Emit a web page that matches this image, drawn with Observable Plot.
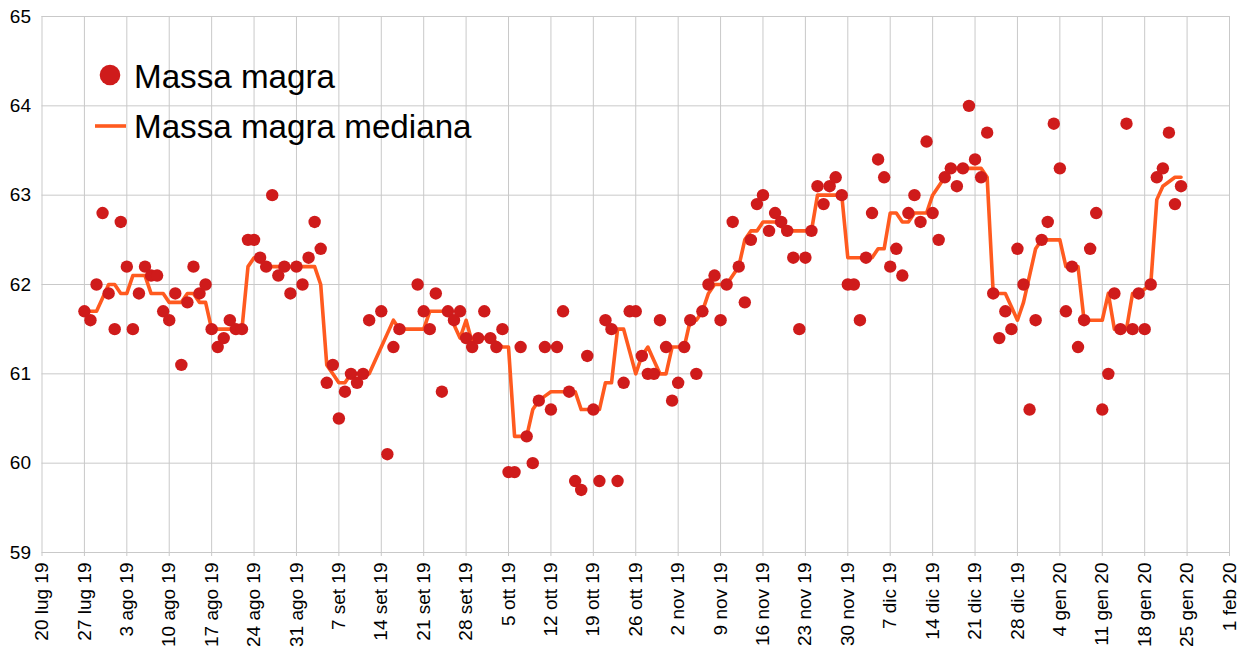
<!DOCTYPE html>
<html>
<head>
<meta charset="utf-8">
<script src="https://cdn.jsdelivr.net/npm/d3@7"></script>
<script src="https://cdn.jsdelivr.net/npm/@observablehq/plot@0.6"></script>
<style>
  html, body { margin: 0; padding: 0; background: #fff; }
  #wrap { position: relative; width: 1246px; height: 663px; font-family: "Liberation Sans", Arial, sans-serif; }
  #legend { position: absolute; left: 0; top: 0; pointer-events: none; }
</style>
</head>
<body>
<div id="wrap"></div>
<script>
// ---- Data ----
const dates = [
  "2019-07-27","2019-07-28","2019-07-29","2019-07-30","2019-07-31",
  "2019-08-01","2019-08-02","2019-08-03","2019-08-04","2019-08-05","2019-08-06","2019-08-07","2019-08-08","2019-08-09","2019-08-10",
  "2019-08-11","2019-08-12","2019-08-13","2019-08-14","2019-08-15","2019-08-16","2019-08-17","2019-08-18","2019-08-19","2019-08-20",
  "2019-08-21","2019-08-22","2019-08-23","2019-08-24","2019-08-25","2019-08-26","2019-08-27","2019-08-28","2019-08-29","2019-08-30","2019-08-31",
  "2019-09-01","2019-09-02","2019-09-03","2019-09-04","2019-09-05","2019-09-06","2019-09-07","2019-09-08","2019-09-09","2019-09-10",
  "2019-09-11","2019-09-12","2019-09-14","2019-09-15","2019-09-16","2019-09-17","2019-09-20",
  "2019-09-21","2019-09-22","2019-09-23","2019-09-24","2019-09-25","2019-09-26","2019-09-27","2019-09-28","2019-09-29","2019-09-30",
  "2019-10-01","2019-10-02","2019-10-03","2019-10-04","2019-10-05","2019-10-06","2019-10-07","2019-10-08","2019-10-09","2019-10-10",
  "2019-10-11","2019-10-12","2019-10-13","2019-10-14","2019-10-15","2019-10-16","2019-10-17","2019-10-18","2019-10-19","2019-10-20",
  "2019-10-21","2019-10-22","2019-10-23","2019-10-24","2019-10-25","2019-10-26","2019-10-27","2019-10-28","2019-10-29","2019-10-30","2019-10-31",
  "2019-11-01","2019-11-02","2019-11-03","2019-11-04","2019-11-05","2019-11-06","2019-11-07","2019-11-08","2019-11-09","2019-11-10",
  "2019-11-11","2019-11-12","2019-11-13","2019-11-14","2019-11-15","2019-11-16","2019-11-17","2019-11-18","2019-11-19","2019-11-20",
  "2019-11-21","2019-11-22","2019-11-23","2019-11-24","2019-11-25","2019-11-26","2019-11-27","2019-11-28","2019-11-29","2019-11-30",
  "2019-12-01","2019-12-02","2019-12-03","2019-12-04","2019-12-05","2019-12-06","2019-12-07","2019-12-08","2019-12-09","2019-12-10",
  "2019-12-11","2019-12-12","2019-12-13","2019-12-14","2019-12-15","2019-12-16","2019-12-17","2019-12-18","2019-12-19","2019-12-20",
  "2019-12-21","2019-12-22","2019-12-23","2019-12-24","2019-12-25","2019-12-26","2019-12-27","2019-12-28","2019-12-29","2019-12-30","2019-12-31",
  "2020-01-01","2020-01-02","2020-01-03","2020-01-04","2020-01-05","2020-01-06","2020-01-07","2020-01-08","2020-01-09","2020-01-10",
  "2020-01-11","2020-01-12","2020-01-13","2020-01-14","2020-01-15","2020-01-16","2020-01-17","2020-01-18","2020-01-19","2020-01-20",
  "2020-01-21","2020-01-22","2020-01-23","2020-01-24"
];

const massaMagra = [
  61.7,61.6,62.0,62.8,61.9,
  61.5,62.7,62.2,61.5,61.9,62.2,62.1,62.1,61.7,61.6,
  61.9,61.1,61.8,62.2,61.9,62.0,61.5,61.3,61.4,61.6,
  61.5,61.5,62.5,62.5,62.3,62.2,63.0,62.1,62.2,61.9,62.2,
  62.0,62.3,62.7,62.4,60.9,61.1,60.5,60.8,61.0,60.9,
  61.0,61.6,61.7,60.1,61.3,61.5,62.0,
  61.7,61.5,61.9,60.8,61.7,61.6,61.7,61.4,61.3,61.4,
  61.7,61.4,61.3,61.5,59.9,59.9,61.3,60.3,60.0,60.7,
  61.3,60.6,61.3,61.7,60.8,59.8,59.7,61.2,60.6,59.8,
  61.6,61.5,59.8,60.9,61.7,61.7,61.2,61.0,61.0,61.6,61.3,
  60.7,60.9,61.3,61.6,61.0,61.7,62.0,62.1,61.6,62.0,
  62.7,62.2,61.8,62.5,62.9,63.0,62.6,62.8,62.7,62.6,
  62.3,61.5,62.3,62.6,63.1,62.9,63.1,63.2,63.0,62.0,
  62.0,61.6,62.3,62.8,63.4,63.2,62.2,62.4,62.1,62.8,
  63.0,62.7,63.6,62.8,62.5,63.2,63.3,63.1,63.3,64.0,
  63.4,63.2,63.7,61.9,61.4,61.7,61.5,62.4,62.0,60.6,61.6,
  62.5,62.7,63.8,63.3,61.7,62.2,61.3,61.6,62.4,62.8,
  60.6,61.0,61.9,61.5,63.8,61.5,61.9,61.5,62.0,63.2,
  63.3,63.7,62.9,63.1
];

const massaMagraMediana = [
  61.7,61.7,61.7,61.85,62.0,
  62.0,61.9,61.9,62.1,62.1,62.1,61.9,61.9,61.9,61.8,
  61.8,61.8,61.9,61.9,61.8,61.8,61.5,61.5,61.5,61.5,
  61.5,61.5,62.2,62.3,62.3,62.2,62.2,62.2,62.2,62.2,62.2,
  62.2,62.2,62.2,62.0,61.1,61.0,60.9,60.9,61.0,61.0,
  61.0,61.0,61.3,61.45,61.6,61.5,61.5,
  61.5,61.7,61.7,61.7,61.7,61.55,61.4,61.6,61.35,61.4,
  61.4,61.4,61.35,61.3,61.3,60.3,60.3,60.3,60.6,60.7,
  60.75,60.8,60.8,60.8,60.8,60.8,60.6,60.6,60.6,60.6,
  60.9,60.9,61.5,61.5,61.25,61.0,61.2,61.3,61.15,61.0,61.0,
  61.3,61.3,61.3,61.6,61.6,61.7,61.9,62.0,62.0,62.0,
  62.1,62.2,62.5,62.6,62.6,62.7,62.7,62.7,62.65,62.6,
  62.6,62.6,62.6,62.6,63.0,63.0,63.0,63.0,63.0,62.3,
  62.3,62.3,62.3,62.3,62.4,62.4,62.8,62.8,62.7,62.7,
  62.8,62.8,62.8,63.0,63.1,63.2,63.3,63.3,63.3,63.3,
  63.3,63.3,63.2,61.9,61.9,61.9,61.75,61.6,61.8,62.1,62.4,
  62.5,62.5,62.5,62.5,62.2,62.2,62.2,61.6,61.6,61.6,
  61.6,61.9,61.5,61.5,61.5,61.9,61.9,61.95,62.0,62.95,
  63.1,63.15,63.2,63.2
];

const tickDates = [
  "2019-07-20","2019-07-27","2019-08-03","2019-08-10","2019-08-17","2019-08-24","2019-08-31",
  "2019-09-07","2019-09-14","2019-09-21","2019-09-28","2019-10-05","2019-10-12","2019-10-19","2019-10-26",
  "2019-11-02","2019-11-09","2019-11-16","2019-11-23","2019-11-30","2019-12-07","2019-12-14","2019-12-21","2019-12-28",
  "2020-01-04","2020-01-11","2020-01-18","2020-01-25","2020-02-01"
];
const yTicks = [59, 60, 61, 62, 63, 64, 65];
const mesi = ["gen","feb","mar","apr","mag","giu","lug","ago","set","ott","nov","dic"];
const seriesNames = ["Massa magra", "Massa magra mediana"];

// ---- Build table ----
const rows = dates.map((d, i) => ({
  date: new Date(d + "T00:00:00Z"),
  massa: massaMagra[i],
  mediana: massaMagraMediana[i]
}));
const ticks = tickDates.map(d => new Date(d + "T00:00:00Z"));
const fmt = d => `${d.getUTCDate()} ${mesi[d.getUTCMonth()]} ${String(d.getUTCFullYear()).slice(2)}`;

const dotColor = "#cf1b1b";
const lineColor = "#ff5a1f";
const gridColor = "#c9c9c9";

const chart = Plot.plot({
  width: 1246,
  height: 663,
  marginLeft: 41.5,
  marginRight: 17,
  marginTop: 16,
  marginBottom: 111,
  style: { fontFamily: "'Liberation Sans', Arial, sans-serif", fontSize: "19px", color: "#000", background: "#fff" },
  x: { type: "utc", domain: [ticks[0], ticks[ticks.length - 1]] },
  y: { domain: [59, 65] },
  marks: [
    Plot.gridX(ticks, { stroke: gridColor, strokeOpacity: 1 }),
    Plot.gridY(yTicks, { stroke: gridColor, strokeOpacity: 1 }),
    Plot.axisY(yTicks, { tickSize: 0, tickPadding: 11, tickFormat: d => String(d), label: null, fontSize: 19 }),
    Plot.axisX(ticks, { tickSize: 4, tickPadding: 6, tickRotate: -90, tickFormat: fmt, label: null, stroke: gridColor, fontSize: 19 }),
    Plot.line(rows, { x: "date", y: "mediana", stroke: lineColor, strokeWidth: 3.6, strokeLinejoin: "round", strokeLinecap: "round" }),
    Plot.dot(rows, { x: "date", y: "massa", r: 6.2, fill: dotColor, stroke: "none" })
  ]
});

const wrap = document.getElementById("wrap");
wrap.appendChild(chart);

// ---- Legend overlay ----
const ns = "http://www.w3.org/2000/svg";
const leg = document.createElementNS(ns, "svg");
leg.setAttribute("id", "legend");
leg.setAttribute("width", 520);
leg.setAttribute("height", 160);
const c = document.createElementNS(ns, "circle");
c.setAttribute("cx", 110); c.setAttribute("cy", 75); c.setAttribute("r", 10.3); c.setAttribute("fill", dotColor);
leg.appendChild(c);
const l = document.createElementNS(ns, "line");
l.setAttribute("x1", 95); l.setAttribute("x2", 126); l.setAttribute("y1", 126); l.setAttribute("y2", 126);
l.setAttribute("stroke", lineColor); l.setAttribute("stroke-width", 3.6);
leg.appendChild(l);
[[seriesNames[0], 88], [seriesNames[1], 138]].forEach(([t, y]) => {
  const tx = document.createElementNS(ns, "text");
  tx.setAttribute("x", 134); tx.setAttribute("y", y);
  tx.setAttribute("font-family", "'Liberation Sans', Arial, sans-serif");
  tx.setAttribute("font-size", 33.2);
  tx.setAttribute("fill", "#000");
  tx.textContent = t;
  leg.appendChild(tx);
});
wrap.appendChild(leg);
</script>
</body>
</html>
